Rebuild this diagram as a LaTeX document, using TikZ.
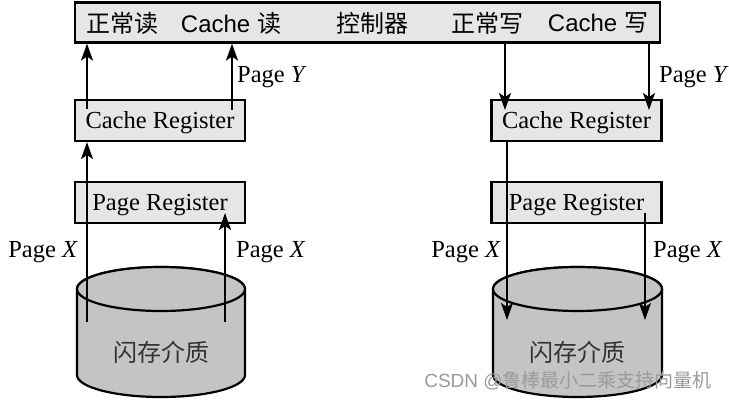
\documentclass[tikz,border=0pt]{standalone}
\usepackage{fontspec}
\setmainfont{Liberation Serif}
\newfontfamily\barfont{Liberation Sans}
\newfontfamily\cjk{Noto Sans CJK SC}
\usetikzlibrary{arrows.meta}
\definecolor{boxgray}{HTML}{E6E6E6}
\definecolor{cylgray}{HTML}{C4C4C4}
\definecolor{wmgray}{HTML}{9A9A9A}
\tikzset{
  regbox/.style={draw=black, fill=boxgray, line width=2.2pt, minimum width=170pt, minimum height=41pt, inner sep=0pt, text depth=1pt, font=\fontsize{24.5}{28}\selectfont},
  barbox/.style={draw=black, fill=boxgray, line width=2.2pt, minimum width=585pt, minimum height=40pt, inner sep=0pt},
  bartext/.style={inner sep=0pt, font=\fontsize{24}{27}\selectfont},
  lbl/.style={inner sep=0pt, font=\fontsize{24.5}{28}\selectfont},
  arr/.style={line width=1.9pt, -{Stealth[length=17pt,width=12pt,inset=4pt]}},
  cyl/.style={draw=black, fill=cylgray, line width=2.2pt},
  cyltext/.style={inner sep=0pt, text=black!80, font=\cjk\fontsize{24}{26}\selectfont},
}
\begin{document}
\begin{tikzpicture}[x=1pt,y=-1pt]
\useasboundingbox (0,0) rectangle (729,401);
% top bar
\node[barbox] (bar) at (367.5,22.5) {};
\node[bartext] (t1) at (122,23) {\cjk 正常读};
\node[bartext] (t2) at (231,23) {\barfont Cache \cjk 读};
\node[bartext] (t3) at (372,23) {\cjk 控制器};
\node[bartext] (t4) at (487,23) {\cjk 正常写};
\node[bartext] (t5) at (598,23) {\barfont Cache \cjk 写};
% registers
\node[regbox] (lcr) at (160,120.5) {Cache Register};
\node[regbox] (lpr) at (160,202.5) {Page Register};
\node[regbox] (rcr) at (576.5,120.5) {Cache Register};
\node[regbox] (rpr) at (576.5,202.5) {Page Register};
% cylinders
\path[cyl] (77,289) -- (77,375) arc[start angle=180, end angle=0, x radius=84, y radius=22] -- (245,289) arc[start angle=0, end angle=-180, x radius=84, y radius=22] -- cycle;
\draw[cyl] (161,289) ellipse[x radius=84, y radius=22];
\node[cyltext] (lcyl) at (161,352) {闪存介质};
\path[cyl] (493,289) -- (493,375) arc[start angle=180, end angle=0, x radius=84.5, y radius=22] -- (662,289) arc[start angle=0, end angle=-180, x radius=84.5, y radius=22] -- cycle;
\draw[cyl] (577.5,289) ellipse[x radius=84.5, y radius=22];
\node[cyltext] (rcyl) at (577.5,352) {闪存介质};
% coordinates
\coordinate (la) at (87,109);
\coordinate (lb) at (232,110);
\coordinate (lc) at (87,322);
\coordinate (ld) at (225,322);
\coordinate (ldt) at (225,213);
\coordinate (ra) at (505,110);
\coordinate (rb) at (649,110);
\coordinate (rc) at (507,320);
\coordinate (rd) at (645,320);
\coordinate (rds) at (645,213);
% arrows left
\draw[arr] (la) -- (la |- bar.south);
\draw[arr] (lb) -- (lb |- bar.south);
\draw[arr] (lc) -- (lc |- lcr.south);
\draw[arr] (ld) -- (ldt);
% arrows right
\draw[arr] (ra |- bar.south) -- (ra);
\draw[arr] (rb |- bar.south) -- (rb);
\draw[arr] (rc |- rcr.south) -- (rc);
\draw[arr] (rds) -- (rd);
% labels
\node[lbl, anchor=west] (ly) at (237,77) {Page \textit{Y}};
\node[lbl, anchor=west] (ry) at (659,77) {Page \textit{Y}};
\node[lbl, anchor=east] (lx1) at (78,252) {Page \textit{X}};
\node[lbl, anchor=west] (lx2) at (236,252) {Page \textit{X}};
\node[lbl, anchor=east] (rx1) at (501,252) {Page \textit{X}};
\node[lbl, anchor=west] (rx2) at (653,252) {Page \textit{X}};
% watermark
\node[inner sep=0pt, text=wmgray, font=\fontsize{19}{22}\selectfont] (wm) at (568,381) {\barfont CSDN @\cjk 鲁棒最小二乘支持向量机};
\end{tikzpicture}
\end{document}
